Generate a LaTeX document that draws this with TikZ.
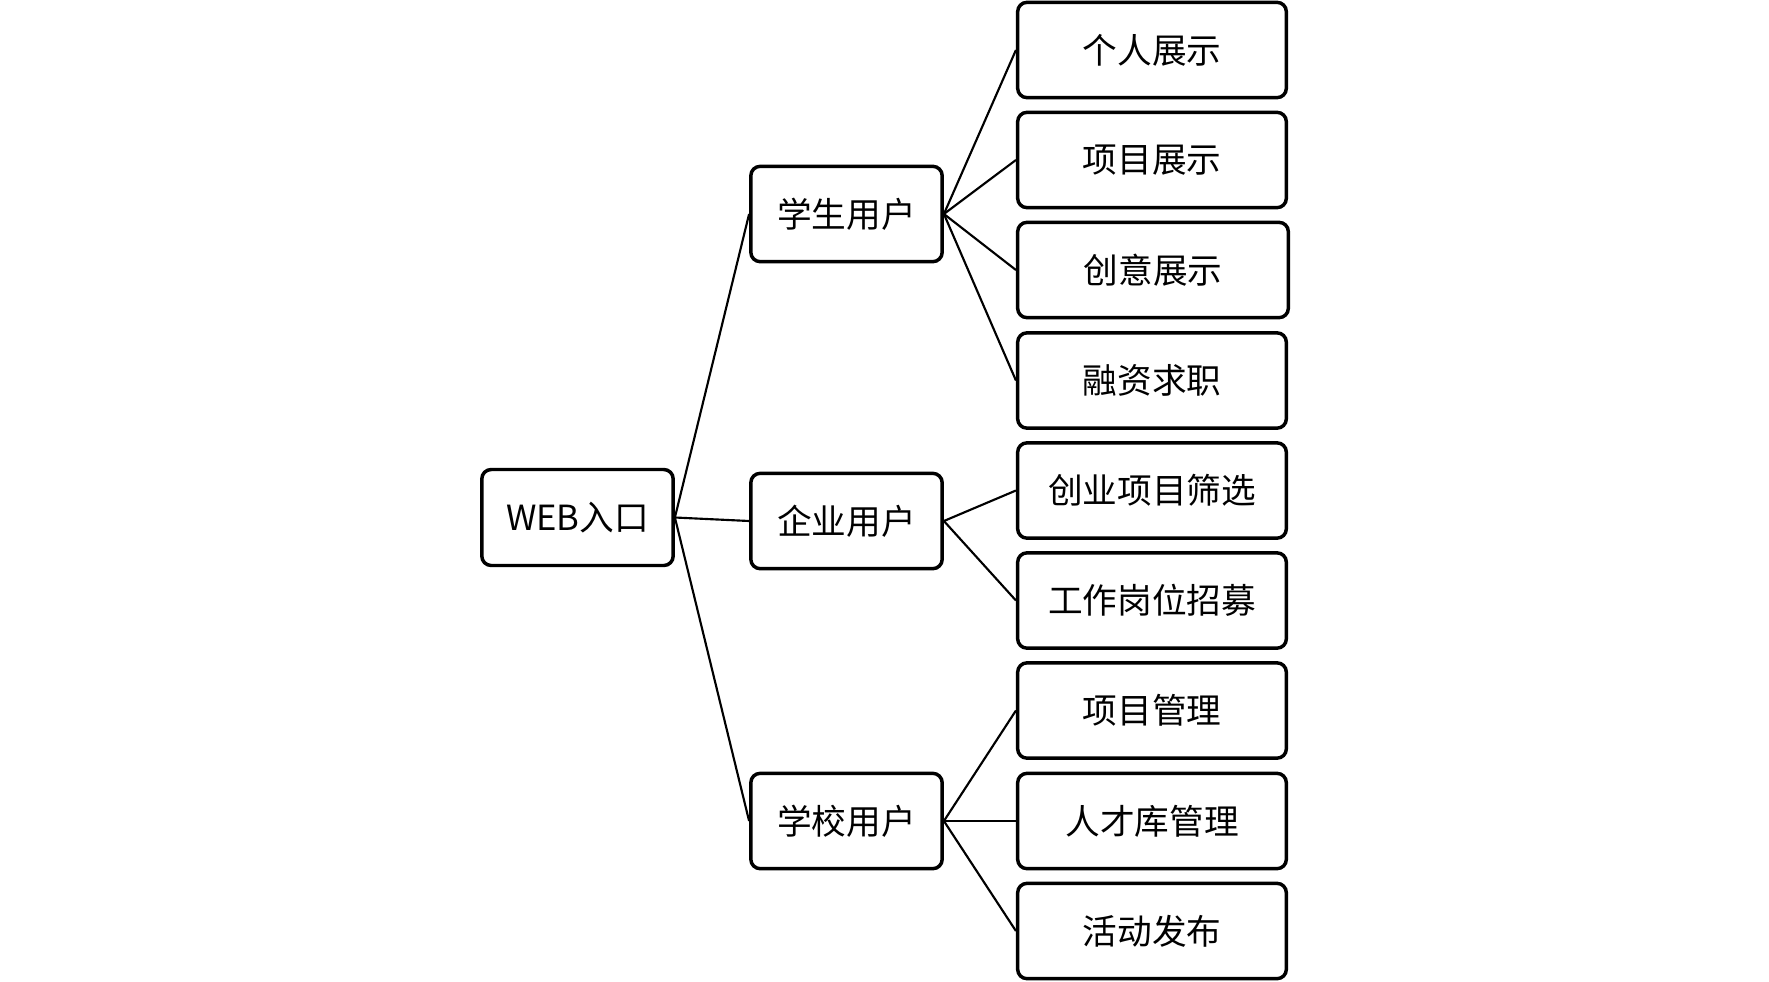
\documentclass[tikz,border=0pt]{standalone}
\usepackage{fontspec}
\setmainfont{Noto Sans CJK SC}
\begin{document}
\begin{tikzpicture}[x=0.75pt,y=-0.75pt,
  box/.style={draw=black,line width=2.6pt,rounded corners=7pt,fill=white,
    inner sep=0pt,font=\fontsize{26}{31}\selectfont},
  rootbox/.style={box,minimum width=143.5pt,minimum height=72pt},
  midbox/.style={box,minimum width=143.5pt,minimum height=71.5pt},
  leafbox/.style={box,minimum width=201.5pt,minimum height=71.5pt},
  link/.style={draw=black,line width=1.6pt}]
\useasboundingbox (0,0) rectangle (1769,981);
\node[rootbox] (web) at (577.5,517.5) {WEB入口};
\node[midbox] (stu) at (846.5,214) {学生用户};
\node[midbox] (ent) at (846.5,521) {企业用户};
\node[midbox] (sch) at (846.5,821) {学校用户};
\node[leafbox] (l1) at (1152,50) {个人展示};
\node[leafbox] (l2) at (1152,160) {项目展示};
\node[leafbox,minimum width=203pt] (l3) at (1153,270) {创意展示};
\node[leafbox] (l4) at (1152,380.5) {融资求职};
\node[leafbox] (l5) at (1152,490.5) {创业项目筛选};
\node[leafbox] (l6) at (1152,600.5) {工作岗位招募};
\node[leafbox] (l7) at (1152,710.5) {项目管理};
\node[leafbox] (l8) at (1152,821) {人才库管理};
\node[leafbox] (l9) at (1152,931) {活动发布};
\draw[link] (web.east) -- (stu.west);
\draw[link] (web.east) -- (ent.west);
\draw[link] (web.east) -- (sch.west);
\foreach \l in {l1,l2,l3,l4} \draw[link] (stu.east) -- (\l.west);
\foreach \l in {l5,l6} \draw[link] (ent.east) -- (\l.west);
\foreach \l in {l7,l8,l9} \draw[link] (sch.east) -- (\l.west);
\end{tikzpicture}
\end{document}
